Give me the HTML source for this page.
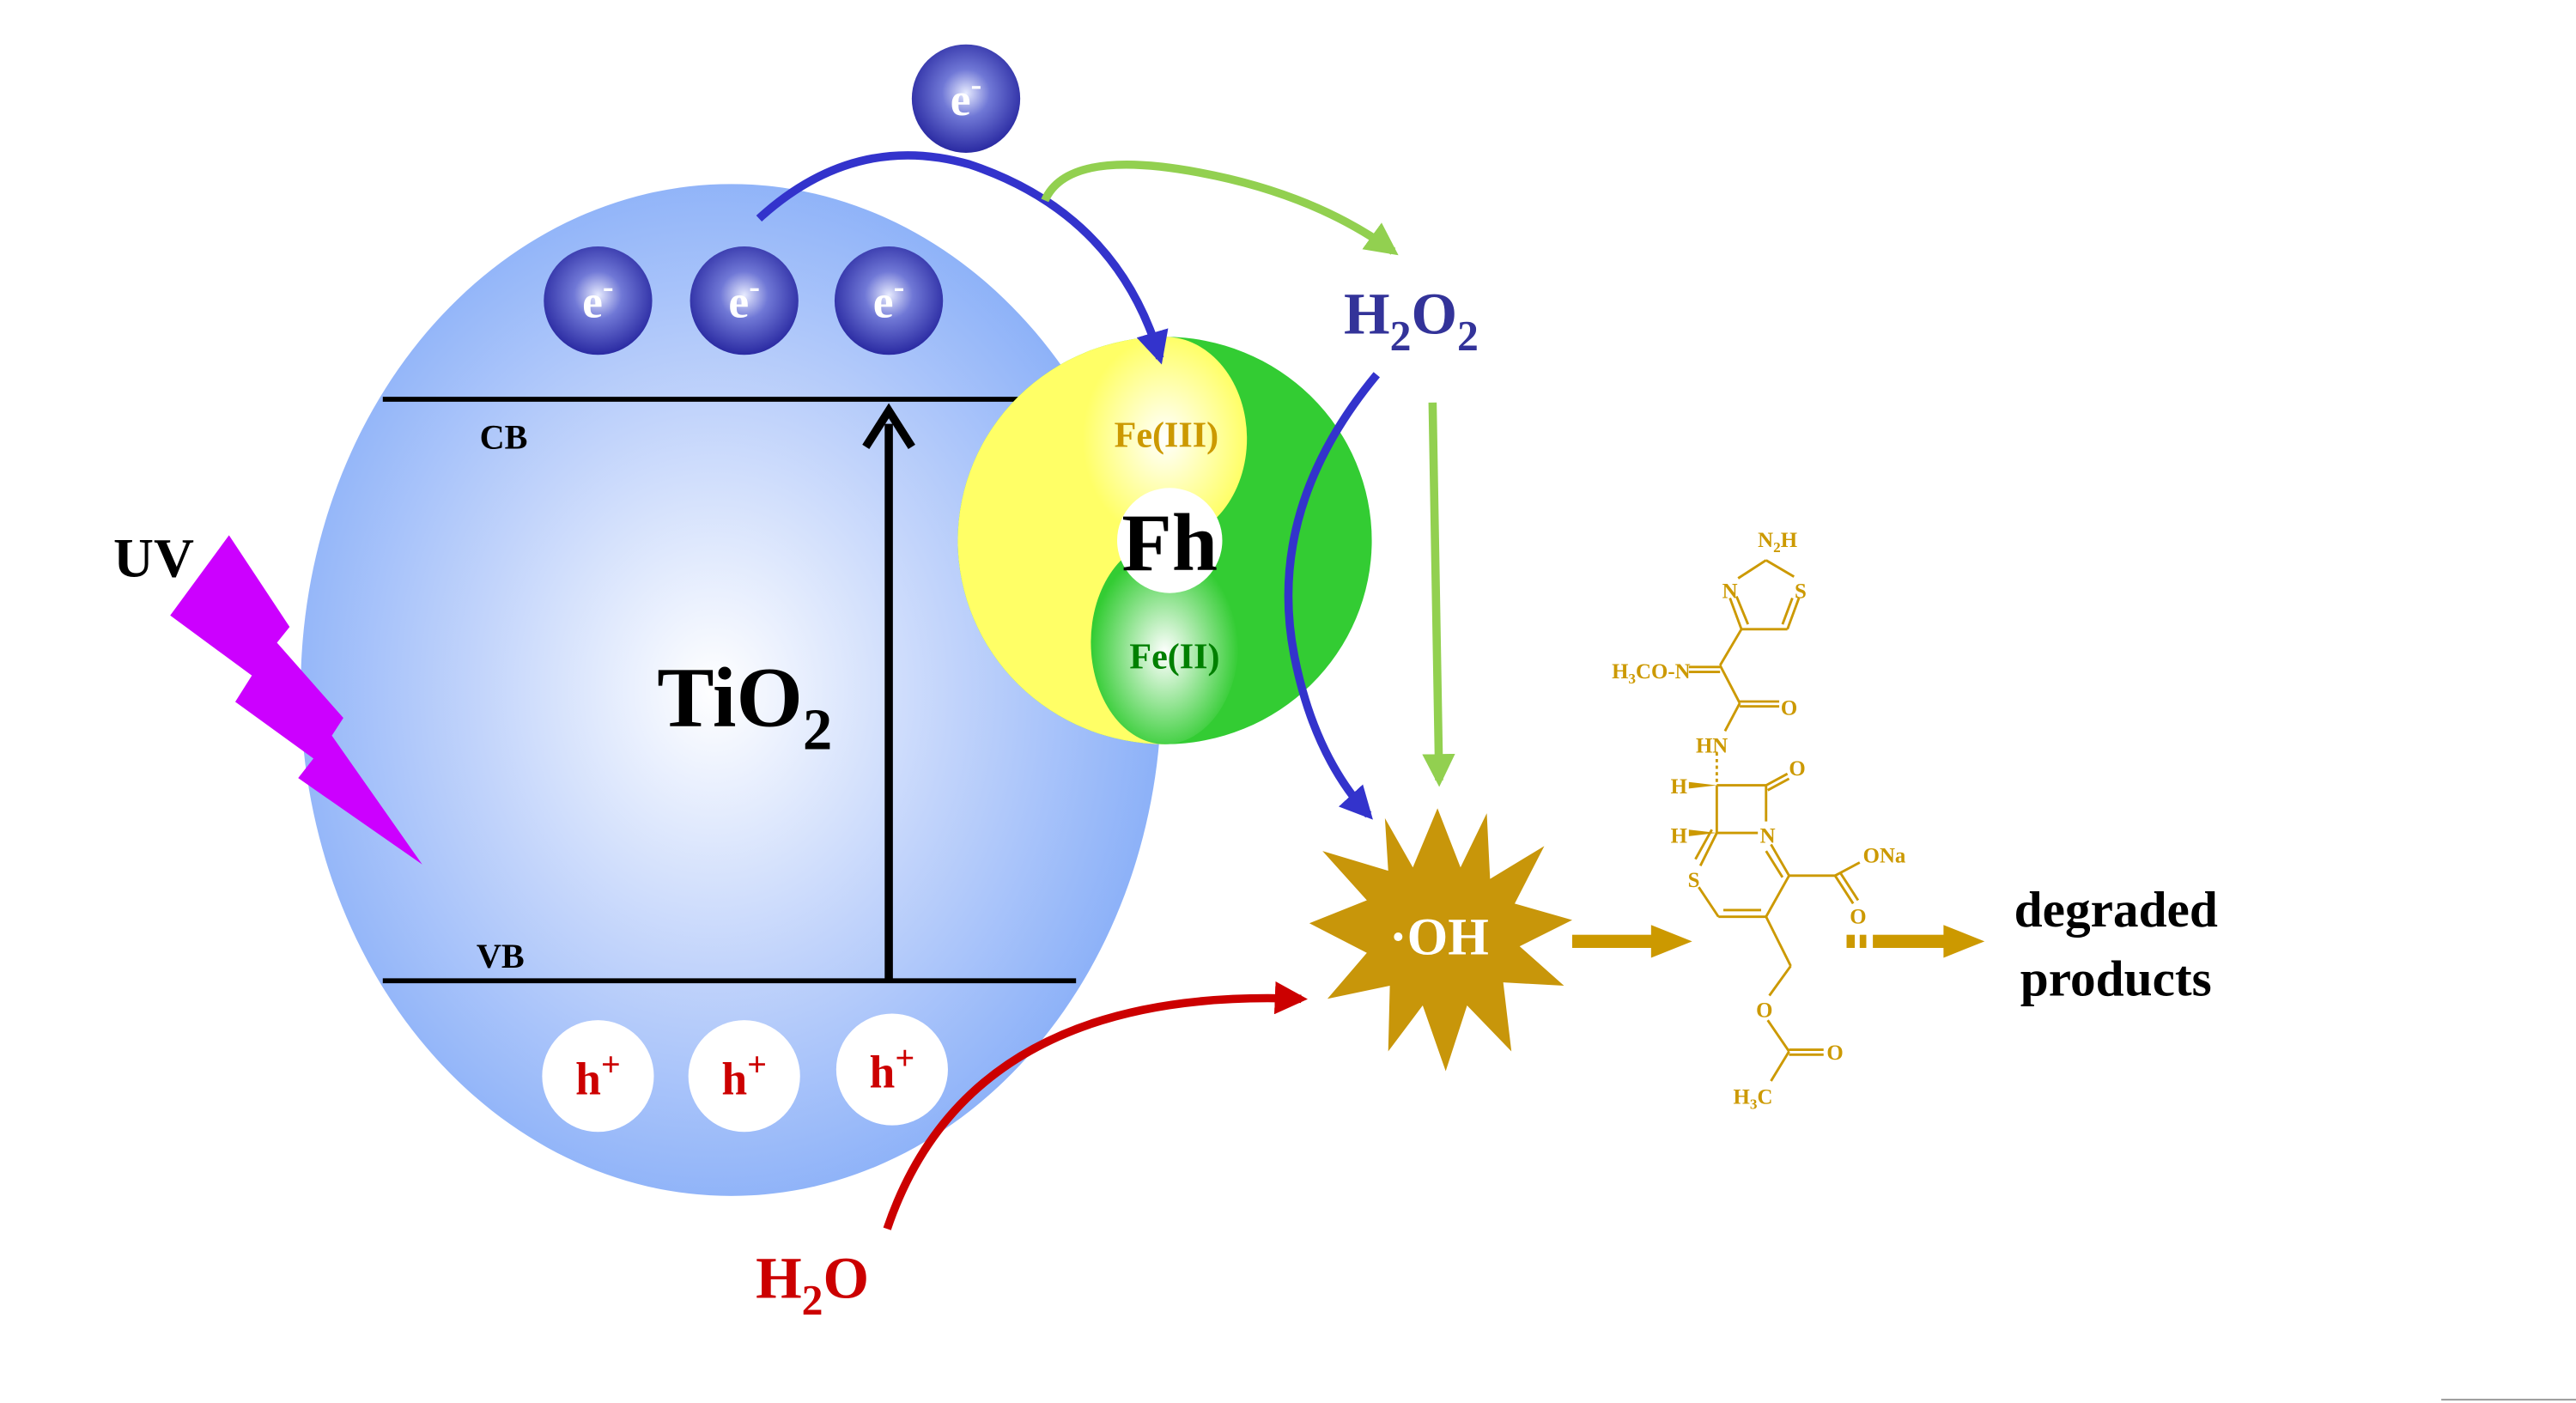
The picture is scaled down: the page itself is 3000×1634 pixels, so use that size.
<!DOCTYPE html>
<html><head><meta charset="utf-8"><style>
html,body{margin:0;padding:0;background:#fff;}
svg{display:block;}
text{font-family:"Liberation Serif",serif;font-weight:bold;}
</style></head><body>
<svg width="3000" height="1634" viewBox="0 0 1568 854" xmlns="http://www.w3.org/2000/svg">
<defs>
<radialGradient id="tio" cx="0.48" cy="0.5" r="0.55">
<stop offset="0" stop-color="#ffffff"/><stop offset="0.5" stop-color="#c2d4fb"/><stop offset="1" stop-color="#86adf8"/>
</radialGradient>
<radialGradient id="el" cx="0.5" cy="0.45" r="0.55">
<stop offset="0" stop-color="#e8ecff"/><stop offset="0.4" stop-color="#7078d6"/><stop offset="1" stop-color="#2a2aa2"/>
</radialGradient>
<radialGradient id="yel" cx="0.5" cy="0.5" r="0.5">
<stop offset="0" stop-color="#ffffff"/><stop offset="1" stop-color="#ffff66"/>
</radialGradient>
<radialGradient id="grn" cx="0.5" cy="0.55" r="0.5">
<stop offset="0" stop-color="#ffffff"/><stop offset="1" stop-color="#33cc33"/>
</radialGradient>
<marker id="ab" viewBox="0 0 10 10" refX="8" refY="5" markerWidth="4" markerHeight="4" orient="auto"><path d="M0,0 L10,5 L0,10 z" fill="#3333cc"/></marker>
<marker id="ag" viewBox="0 0 10 10" refX="8" refY="5" markerWidth="4" markerHeight="4" orient="auto"><path d="M0,0 L10,5 L0,10 z" fill="#92d050"/></marker>
<marker id="ar" viewBox="0 0 10 10" refX="8" refY="5" markerWidth="4" markerHeight="4" orient="auto"><path d="M0,0 L10,5 L0,10 z" fill="#cc0000"/></marker>
</defs>

<ellipse cx="445" cy="420" rx="262" ry="308" fill="url(#tio)"/>
<line x1="233" y1="243" x2="640" y2="243" stroke="#000" stroke-width="3"/>
<line x1="233" y1="597" x2="655" y2="597" stroke="#000" stroke-width="3"/>
<text x="292" y="273" font-size="21">CB</text>
<text x="290" y="589" font-size="21">VB</text>
<line x1="541" y1="597" x2="541" y2="258" stroke="#000" stroke-width="5"/>
<path d="M527,272 L541,250 L555,272" fill="none" stroke="#000" stroke-width="5"/>
<text x="400" y="442" font-size="52">TiO<tspan font-size="36" dy="14">2</tspan></text>

<g font-size="28" fill="#fff" text-anchor="middle">
<circle cx="364" cy="183" r="33" fill="url(#el)"/><text x="364" y="193">e<tspan font-size="20" dy="-12">-</tspan></text>
<circle cx="453" cy="183" r="33" fill="url(#el)"/><text x="453" y="193">e<tspan font-size="20" dy="-12">-</tspan></text>
<circle cx="541" cy="183" r="33" fill="url(#el)"/><text x="541" y="193">e<tspan font-size="20" dy="-12">-</tspan></text>
<circle cx="588" cy="60" r="33" fill="url(#el)"/><text x="588" y="70">e<tspan font-size="20" dy="-12">-</tspan></text>
</g>

<g font-size="28" fill="#cc0000" text-anchor="middle">
<circle cx="364" cy="655" r="34" fill="#fff"/><text x="364" y="666">h<tspan font-size="21" dy="-11">+</tspan></text>
<circle cx="453" cy="655" r="34" fill="#fff"/><text x="453" y="666">h<tspan font-size="21" dy="-11">+</tspan></text>
<circle cx="543" cy="651" r="34" fill="#fff"/><text x="543" y="662">h<tspan font-size="21" dy="-11">+</tspan></text>
</g>

<text x="69" y="351" font-size="34">UV</text>
<polygon points="139.4,325.8 176.3,381.6 168.6,391.2 209,437 202,447.8 257,526.2 181.5,473.6 190.8,461.7 143.2,427.2 153.3,411.2 103.6,374.6" fill="#cc00ff"/>

<ellipse cx="709" cy="329" rx="126" ry="124" fill="#33cc33"/>
<path d="M583,329 A126,124 0 0 1 709,205 L709,453 A126,124 0 0 1 583,329 Z" fill="#ffff66"/>
<ellipse cx="709" cy="267" rx="50" ry="62" fill="url(#yel)"/>
<ellipse cx="709" cy="391" rx="45" ry="62" fill="url(#grn)"/>
<circle cx="712" cy="329" r="32" fill="#fff"/>
<text x="712" y="347" font-size="50" text-anchor="middle" fill="#000">Fh</text>
<text x="710" y="272" font-size="22" text-anchor="middle" fill="#cc9900">Fe(III)</text>
<text x="715" y="407" font-size="22" text-anchor="middle" fill="#008000">Fe(II)</text>

<path d="M462,133 Q520,80 590,100 Q680,130 706,218" fill="none" stroke="#3333cc" stroke-width="5" marker-end="url(#ab)"/>
<path d="M636,122 Q650,90 730,105 Q800,118 848,153" fill="none" stroke="#92d050" stroke-width="5" marker-end="url(#ag)"/>
<path d="M872,245 L876,475" fill="none" stroke="#92d050" stroke-width="5" marker-end="url(#ag)"/>
<path d="M838,228 Q770,310 788,400 Q800,460 833,496" fill="none" stroke="#3333cc" stroke-width="5" marker-end="url(#ab)"/>
<path d="M540,748 Q590,600 792,608" fill="none" stroke="#cc0000" stroke-width="5" marker-end="url(#ar)"/>

<text x="818" y="203" font-size="36" fill="#333399">H<tspan font-size="26" dy="10">2</tspan><tspan dy="-10">O</tspan><tspan font-size="26" dy="10">2</tspan></text>
<text x="460" y="790" font-size="36" fill="#cc0000">H<tspan font-size="26" dy="10">2</tspan><tspan dy="-10">O</tspan></text>

<polygon points="875,492 889,528 905,495 907,535 940,515 922,550 957,560 925,576 952,600 915,598 920,640 893,612 880,652 866,612 845,640 846,600 808,608 832,580 797,562 832,548 805,518 845,530 843,498 860,528" fill="#c8960a"/>
<text x="876" y="581" font-size="32" fill="#fff" text-anchor="middle">·OH</text>

<rect x="957" y="569" width="50" height="8" fill="#cc9900"/>
<polygon points="1005,563 1030,573 1005,583" fill="#cc9900"/>
<rect x="1124" y="569" width="5" height="8" fill="#cc9900"/>
<rect x="1132" y="569" width="4" height="8" fill="#cc9900"/>
<rect x="1140" y="569" width="45" height="8" fill="#cc9900"/>
<polygon points="1183,563 1208,573 1183,583" fill="#cc9900"/>

<text x="1288" y="564" font-size="31" text-anchor="middle">degraded</text>
<text x="1288" y="606" font-size="31" text-anchor="middle">products</text>

<g stroke="#cc9900" stroke-width="1.5" fill="none">
<line x1="1075" y1="341" x2="1058" y2="352"/>
<line x1="1075" y1="341" x2="1092" y2="351"/>
<line x1="1053" y1="364" x2="1060" y2="383"/><line x1="1057" y1="363" x2="1064" y2="380"/>
<line x1="1060" y1="383" x2="1088" y2="383"/>
<line x1="1088" y1="383" x2="1095" y2="364"/><line x1="1085" y1="380" x2="1091" y2="364"/>
<line x1="1060" y1="383" x2="1047" y2="405"/>
<line x1="1028" y1="406" x2="1047" y2="406"/><line x1="1028" y1="409" x2="1047" y2="409"/>
<line x1="1047" y1="405" x2="1059" y2="428"/>
<line x1="1059" y1="427" x2="1083" y2="427"/><line x1="1059" y1="430" x2="1083" y2="430"/>
<line x1="1059" y1="428" x2="1050" y2="445"/>
<line x1="1045" y1="458" x2="1045" y2="478" stroke-dasharray="2,2"/>
<line x1="1045" y1="478" x2="1075" y2="478"/>
<line x1="1075" y1="478" x2="1088" y2="471"/><line x1="1076" y1="481" x2="1089" y2="474"/>
<line x1="1045" y1="478" x2="1045" y2="507"/>
<line x1="1075" y1="478" x2="1075" y2="500"/>
<line x1="1045" y1="507" x2="1070" y2="507"/>
<line x1="1045" y1="507" x2="1035" y2="527"/><line x1="1042" y1="505" x2="1032" y2="523"/>
<line x1="1034" y1="540" x2="1046" y2="558"/>
<line x1="1046" y1="558" x2="1075" y2="558"/><line x1="1049" y1="554" x2="1072" y2="554"/>
<line x1="1075" y1="558" x2="1089" y2="533"/>
<line x1="1089" y1="533" x2="1078" y2="514"/><line x1="1085" y1="534" x2="1075" y2="518"/>
<line x1="1089" y1="533" x2="1117" y2="533"/>
<line x1="1117" y1="533" x2="1132" y2="525"/>
<line x1="1117" y1="533" x2="1128" y2="550"/><line x1="1120" y1="531" x2="1131" y2="548"/>
<line x1="1075" y1="558" x2="1090" y2="588"/>
<line x1="1090" y1="588" x2="1077" y2="606"/>
<line x1="1076" y1="621" x2="1089" y2="640"/>
<line x1="1089" y1="639" x2="1110" y2="639"/><line x1="1089" y1="642" x2="1110" y2="642"/>
<line x1="1089" y1="640" x2="1078" y2="658"/>
</g>
<polygon points="1045,478 1028,476 1028,480" fill="#cc9900"/>
<polygon points="1045,507 1028,505 1028,509" fill="#cc9900"/>
<g font-size="13" fill="#cc9900" text-anchor="middle">
<text x="1082" y="333">N<tspan font-size="9" dy="3">2</tspan><tspan dy="-3">H</tspan></text>
<text x="1053" y="364">N</text>
<text x="1096" y="364">S</text>
<text x="1005" y="413">H<tspan font-size="9" dy="3">3</tspan><tspan dy="-3">CO-N</tspan></text>
<text x="1089" y="435">O</text>
<text x="1042" y="458">HN</text>
<text x="1094" y="472">O</text>
<text x="1022" y="483">H</text>
<text x="1022" y="513">H</text>
<text x="1076" y="513">N</text>
<text x="1031" y="540">S</text>
<text x="1147" y="525">ONa</text>
<text x="1131" y="562">O</text>
<text x="1074" y="619">O</text>
<text x="1117" y="645">O</text>
<text x="1067" y="672">H<tspan font-size="9" dy="3">3</tspan><tspan dy="-3">C</tspan></text>
</g>
<line x1="1486" y1="852" x2="1568" y2="852" stroke="#999" stroke-width="1"/>
</svg>
</body></html>
